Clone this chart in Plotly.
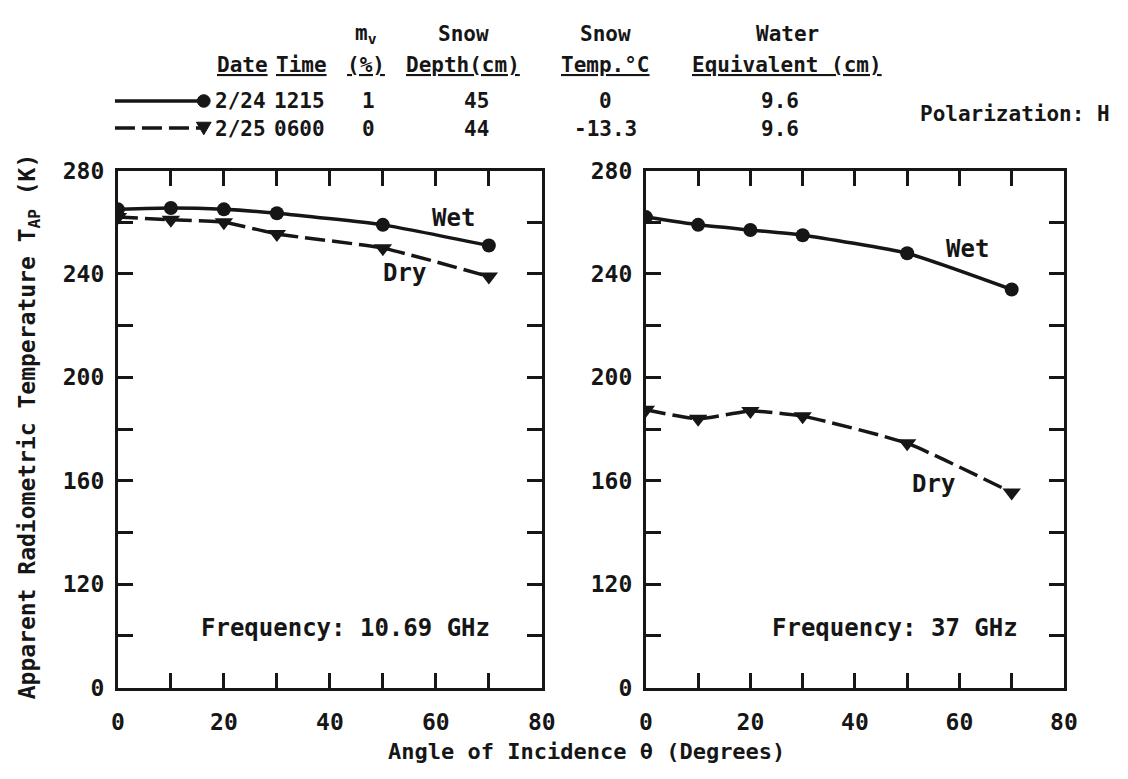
import plotly.graph_objects as go

# ---- data ----
angles = [0, 10, 20, 30, 50, 70]
wet_10ghz = [265, 265.5, 265, 263.5, 259, 251]
dry_10ghz = [262, 261, 260, 255.5, 250, 239]
wet_37ghz = [262, 259, 257, 255, 248, 234]
dry_37ghz = [187.5, 184, 187, 185, 174.5, 155.5]

y_tickvals = [80, 120, 160, 200, 240, 280]   # broken axis: bottom position labelled 0
y_ticktext = ["0", "120", "160", "200", "240", "280"]
x_tickvals = [0, 20, 40, 60, 80]

header_top = ["", "", "m<sub>v</sub>", "Snow", "Snow", "Water"]
header_cols = ["Date", "Time", "(%)", "Depth(cm)", "Temp.°C", "Equivalent (cm)"]
row_wet = ["2/24", "1215", "1", "45", "0", "9.6"]
row_dry = ["2/25", "0600", "0", "44", "-13.3", "9.6"]

FONT = "DejaVu Sans Mono, Liberation Mono, monospace"
INK = "#161616"
W, H = 1128, 779

fig = go.Figure()

DASH = "20px,7px"

def add_pair(wet, dry, xa, ya):
    fig.add_trace(go.Scatter(x=angles, y=wet, xaxis=xa, yaxis=ya, mode="lines+markers",
                             line=dict(color=INK, width=3.5, shape="spline", smoothing=0.5),
                             marker=dict(symbol="circle", size=14, color=INK),
                             showlegend=False))
    fig.add_trace(go.Scatter(x=angles, y=dry, xaxis=xa, yaxis=ya, mode="lines+markers",
                             line=dict(color=INK, width=3.5, dash=DASH, shape="spline", smoothing=0.5),
                             marker=dict(symbol="triangle-down", size=16, color=INK),
                             showlegend=False))

add_pair(wet_10ghz, dry_10ghz, "x", "y")
add_pair(wet_37ghz, dry_37ghz, "x2", "y2")

def px(x):
    return x / W

def py(y):
    return 1 - y / H

ydom = [py(698), py(163)]
tickfont = dict(family=FONT, size=23, color=INK, weight="bold")
axis_common = dict(showline=True, linecolor=INK, linewidth=3, mirror="ticks",
                   ticks="inside", ticklen=15, tickwidth=2.5, tickcolor=INK,
                   showgrid=False, zeroline=False, tickfont=tickfont)

xax = dict(axis_common, range=[0, 80], tickvals=x_tickvals, ticklabelstandoff=12,
           minor=dict(dtick=10, tick0=0, ticks="inside", ticklen=15, tickwidth=2.5, tickcolor=INK))
yax = dict(axis_common, range=[80, 280], tickvals=y_tickvals, ticktext=y_ticktext,
           ticklabelstandoff=6,
           minor=dict(dtick=20, tick0=80, ticks="inside", ticklen=15, tickwidth=2.5, tickcolor=INK))

fig.update_layout(
    width=W, height=H,
    margin=dict(l=0, r=0, t=0, b=0),
    paper_bgcolor="white", plot_bgcolor="white",
    font=dict(family=FONT, color=INK),
    xaxis=dict(xax, domain=[px(113), px(545)], anchor="y"),
    yaxis=dict(yax, domain=ydom, anchor="x"),
    xaxis2=dict(xax, domain=[px(651), px(1077)], anchor="y2"),
    yaxis2=dict(yax, domain=ydom, anchor="x2"),
)

ann = []
def text(t, x, y, size=24, xref="paper", yref="paper", xanchor="center", yanchor="middle", **kw):
    ann.append(dict(text=t, x=x, y=y, xref=xref, yref=yref, showarrow=False,
                    xanchor=xanchor, yanchor=yanchor,
                    font=dict(family=FONT, size=size, color=INK, weight="bold"), **kw))

# panel labels
text("Wet", 63.3, 261.7, xref="x", yref="y")
text("Dry", 54.0, 240.5, xref="x", yref="y")
text("Wet", 61.5, 249.5, xref="x2", yref="y2")
text("Dry", 55.0, 158.8, xref="x2", yref="y2")
text("Frequency: 10.69 GHz", 43.0, 103.0, xref="x", yref="y")
text("Frequency: 37 GHz", 47.7, 103.0, xref="x2", yref="y2")

# axis titles
text("Angle of Incidence θ (Degrees)", px(590), 0.0, size=22, yanchor="bottom")
text("Apparent Radiometric Temperature T<sub>AP</sub> (K)", px(22), py(428), size=23, textangle=-90)

# header table
HS = 21
head_x = [240, 300, 366, 465, 610, 795]
data_x = [238, 298, 368, 478, 610, 788]
for hx, dx, top, h, a, b in zip(head_x, data_x, header_top, header_cols, row_wet, row_dry):
    if top:
        text(top, px(hx), py(22), size=HS)
    text("<u>" + h + "</u>", px(hx), py(54), size=HS)
    text(a, px(dx), py(91), size=HS)
    text(b, px(dx), py(120), size=HS)
text("Polarization: H", px(1126), py(104), size=HS, xanchor="right")

fig.update_layout(annotations=ann)

# legend sample lines in header
shapes = [
    dict(type="line", xref="paper", yref="paper", x0=px(110), x1=px(198), y0=py(91), y1=py(91),
         line=dict(color=INK, width=3.5)),
    dict(type="circle", xref="paper", yref="paper", x0=px(194), x1=px(207), y0=py(97.5), y1=py(84.5),
         fillcolor=INK, line=dict(color=INK, width=1)),
    dict(type="line", xref="paper", yref="paper", x0=px(110), x1=px(198), y0=py(119), y1=py(119),
         line=dict(color=INK, width=3.5, dash=DASH)),
    dict(type="path", xref="paper", yref="paper",
         path=f"M {px(193)},{py(113)} L {px(208)},{py(113)} L {px(200.5)},{py(126)} Z",
         fillcolor=INK, line=dict(color=INK, width=1)),
]
fig.update_layout(shapes=shapes)

fig.write_html("out.html")
